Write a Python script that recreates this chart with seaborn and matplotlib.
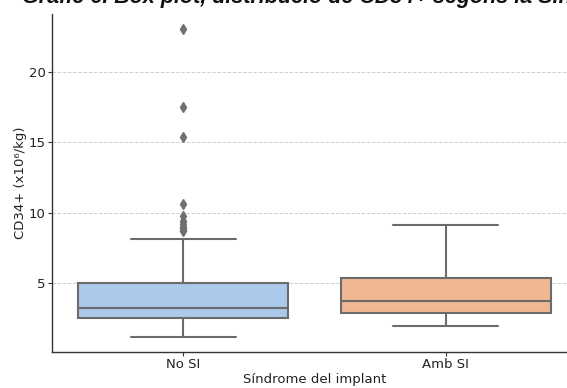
import matplotlib
matplotlib.use("Agg")
import matplotlib.pyplot as plt
import seaborn as sns
import pandas as pd

# CD34+ dose (x10^6/kg) per patient, grouped by implant syndrome status
groups = ["No SI", "Amb SI"]

cd34_no_si = [
    1.22, 1.40, 1.55, 1.70, 1.82, 1.93, 2.02, 2.10, 2.19, 2.27, 2.35, 2.42, 2.48, 2.53,
    2.57, 2.61, 2.66, 2.71, 2.76, 2.82, 2.87, 2.93, 2.99, 3.04, 3.10, 3.16, 3.21, 3.25,
    3.28, 3.33, 3.40, 3.50, 3.60, 3.72, 3.85, 3.98, 4.10, 4.25, 4.40, 4.58, 4.75, 4.90,
    5.00, 5.60, 6.80, 8.17, 8.70, 8.80, 8.90, 9.00, 9.20, 9.40, 9.80, 10.60, 15.35,
    17.50, 23.00,
]
cd34_amb_si = [
    1.95, 2.30, 2.65, 2.92, 3.20, 3.50, 3.77, 4.20, 4.80, 5.40, 6.30, 7.50, 9.10,
]

yticks = [5, 10, 15, 20]

title = "Gràfic 6. Box plot, distribució de CD34+ segons la Síndrome del implant"
xlabel = "Síndrome del implant"
ylabel = "CD34+ (x10⁶/kg)"

df = pd.DataFrame({
    "grup": [groups[0]] * len(cd34_no_si) + [groups[1]] * len(cd34_amb_si),
    "cd34": cd34_no_si + cd34_amb_si,
})

sns.set_style("ticks")
plt.rcParams["font.family"] = ["DejaVu Sans"]

fig = plt.figure(figsize=(5.67, 3.88), dpi=100)
ax = fig.add_axes([52 / 567, 36 / 388, 525 / 567, 338 / 388])

sns.boxplot(
    data=df, x="grup", y="cd34", hue="grup", order=groups, hue_order=groups,
    palette="pastel", legend=False, width=0.8, linewidth=1.5, linecolor="#6b6b6b",
    saturation=0.75,
    flierprops=dict(marker="d", markersize=5, markerfacecolor="#707070",
                    markeredgecolor="#707070"),
    ax=ax,
)

ax.set_yticks(yticks)
ax.grid(axis="y", linestyle="--", color="#cfcfcf", linewidth=0.7)
ax.set_axisbelow(True)
sns.despine(ax=ax)
for side in ("left", "bottom"):
    ax.spines[side].set_color("#333333")
    ax.spines[side].set_linewidth(1.0)
ax.tick_params(axis="both", labelsize=9.5, colors="#333333", labelcolor="#222222",
               length=3, pad=1.5)
ax.set_xlabel(xlabel, fontsize=9.5, color="#222222", labelpad=1)
ax.set_ylabel(ylabel, fontsize=9.5, color="#222222", labelpad=1)

fig.text(22 / 567, 1 - 3 / 388, title, ha="left", va="baseline",
         family=["Liberation Sans"], fontstyle="italic", fontweight="bold",
         fontsize=15.5, color="#111111")

fig.savefig("out.png", dpi=100)
